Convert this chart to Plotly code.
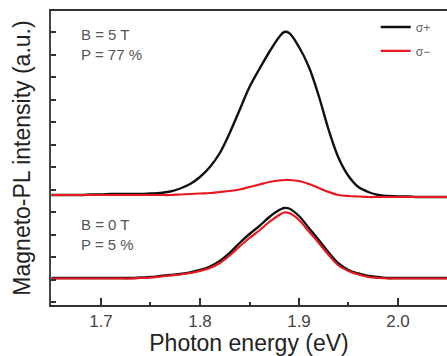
import plotly.graph_objects as go

# Photon energy grid (eV)
energy = [1.65, 1.66, 1.67, 1.68, 1.69, 1.70, 1.71, 1.72, 1.73, 1.74,
          1.75, 1.76, 1.77, 1.78, 1.79, 1.80, 1.81, 1.82, 1.83, 1.84,
          1.85, 1.86, 1.87, 1.88, 1.885, 1.89, 1.90, 1.91, 1.92, 1.93,
          1.94, 1.95, 1.96, 1.97, 1.98, 1.99, 2.00, 2.01, 2.02, 2.03,
          2.04, 2.05]

# B = 5 T (offset spectra), arbitrary units
b5_sigma_plus = [110, 110, 110, 110, 110.5, 110.5, 111, 111, 111, 111,
                 111.5, 112, 113.5, 116.5, 121, 128, 138, 152, 172, 195,
                 218, 236, 253, 268, 273, 272, 258, 238, 209, 175,
                 147, 129, 118, 113, 110, 109, 108.5, 108.5, 108, 108,
                 108, 108]
b5_sigma_minus = [110, 110, 110, 110, 110, 110, 110, 110, 110, 110,
                  110, 110, 110, 110.5, 111, 111.5, 112, 113, 114, 115.5,
                  118, 120.5, 123, 124.5, 125, 125, 124, 121, 117, 113,
                  110, 109, 108.5, 108, 108, 108, 108, 108, 108, 108,
                  108, 108]

# B = 0 T
b0_sigma_plus = [27, 27, 27, 27, 27, 27, 27, 27, 27, 27.5,
                 28, 29, 30, 31, 32.5, 35, 38.5, 44, 52, 62,
                 71, 79, 88, 95, 97, 96.5, 89, 77, 65, 52.5,
                 41.5, 35, 31.5, 29, 28, 27, 27, 27, 27, 27,
                 27, 27]
b0_sigma_minus = [26.5, 26.5, 26.5, 26.5, 26.5, 26.5, 26.5, 26.5, 26.5, 27,
                  27.5, 28.5, 29.5, 30.5, 32, 34, 37, 42, 49.5, 58.5,
                  67, 74.5, 83, 90, 92.5, 92, 85, 73.5, 62, 50,
                  39.5, 34, 30.5, 28, 27, 26.5, 26.5, 26.5, 26.5, 26.5,
                  26.5, 26.5]

x_ticks = [1.7, 1.8, 1.9, 2.0]
x_tick_text = ["1.7", "1.8", "1.9", "2.0"]

labels_5T = ["B = 5 T", "P = 77 %"]
labels_0T = ["B = 0 T", "P = 5 %"]

BLACK = "#111111"
RED = "#e8191e"
FONT = "Liberation Sans, Arial, sans-serif"

fig = go.Figure()
fig.add_trace(go.Scatter(x=energy, y=b0_sigma_plus, mode="lines",
                         line=dict(color=BLACK, width=2.4, shape="spline"),
                         showlegend=False))
fig.add_trace(go.Scatter(x=energy, y=b0_sigma_minus, mode="lines",
                         line=dict(color=RED, width=2.2, shape="spline"),
                         showlegend=False))
fig.add_trace(go.Scatter(x=energy, y=b5_sigma_plus, mode="lines", name="σ+",
                         legendgroup="p",
                         line=dict(color=BLACK, width=2.4, shape="spline")))
fig.add_trace(go.Scatter(x=energy, y=b5_sigma_minus, mode="lines", name="σ−",
                         legendgroup="m",
                         line=dict(color=RED, width=2.2, shape="spline")))

fig.add_annotation(x=0.07, y=261, xref="paper", yref="y", xanchor="left",
                   text="<br>".join(labels_5T), showarrow=False, align="left",
                   font=dict(family=FONT, size=15, color="#555555"))
fig.add_annotation(x=0.07, y=71, xref="paper", yref="y", xanchor="left",
                   text="<br>".join(labels_0T), showarrow=False, align="left",
                   font=dict(family=FONT, size=15, color="#555555"))

fig.update_layout(
    width=447, height=356,
    margin=dict(l=51, r=0, t=11, b=51),
    paper_bgcolor="white", plot_bgcolor="white",
    font=dict(family=FONT, color="#222222"),
    legend=dict(x=0.82, y=0.995, xanchor="left", yanchor="top",
                traceorder="grouped", tracegroupgap=5,
                bgcolor="rgba(0,0,0,0)", borderwidth=0,
                font=dict(family=FONT, size=12, color="#666666")),
    xaxis=dict(range=[1.6495, 2.0495], tickvals=x_ticks, ticktext=x_tick_text,
               ticks="inside", ticklen=7, tickwidth=1.5, tickcolor="#333333",
               minor=dict(ticks="inside", ticklen=3, tickcolor="#333333", dtick=0.05, tick0=1.65),
               showline=True, linecolor="#333333", linewidth=2, mirror=True,
               showgrid=False, zeroline=False,
               tickfont=dict(family=FONT, size=17, color="#444444"),
               title=dict(text="Photon energy (eV)", standoff=2,
                          font=dict(family=FONT, size=23, color="#222222"))),
    yaxis=dict(range=[0, 294], tick0=3, dtick=22.5, showticklabels=False,
               ticks="inside", ticklen=5, tickwidth=1.5, tickcolor="#333333",
               showline=True, linecolor="#444444", linewidth=1.5,
               showgrid=False, zeroline=False,
               title=dict(text="Magneto-PL intensity (a.u.)", standoff=12,
                          font=dict(family=FONT, size=23, color="#222222"))),
)

fig.write_html("out.html")
